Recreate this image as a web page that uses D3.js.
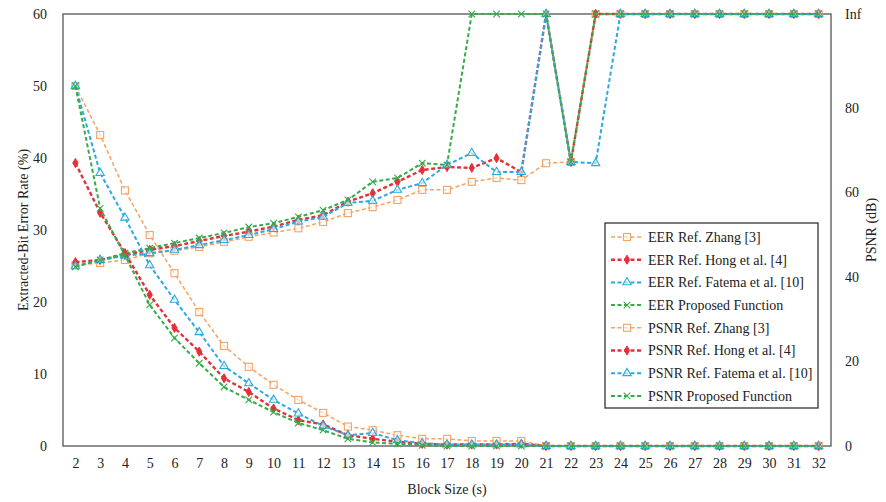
<!DOCTYPE html>
<html>
<head>
<meta charset="utf-8">
<script src="https://cdn.jsdelivr.net/npm/d3@7"></script>
<style>
  body { margin: 0; background: #fff; }
  svg, svg text { font-family: 'Liberation Serif', Tinos, 'Noto Serif', 'DejaVu Serif', 'Times New Roman', Times, serif !important; }
</style>
</head>
<body>
<svg width="886" height="502"></svg>
<script>
const blockSizes = d3.range(2, 33);
const INF = Infinity;

// Extracted-bit error rate (%), left axis
const eerZhang   = [50, 43.2, 35.5, 29.3, 24.0, 18.6, 13.9, 11.0, 8.5, 6.4, 4.6, 2.7, 2.2, 1.5, 1.0, 1.0, 0.7, 0.7, 0.7, 0, 0, 0, 0, 0, 0, 0, 0, 0, 0, 0, 0];
const eerHong    = [39.3, 32.4, 26.8, 21.0, 16.4, 13.1, 9.4, 7.5, 5.2, 3.6, 3.0, 1.5, 1.0, 0.6, 0.3, 0.2, 0.2, 0.2, 0.3, 0, 0, 0, 0, 0, 0, 0, 0, 0, 0, 0, 0];
const eerFatema  = [50, 37.9, 31.7, 25.1, 20.3, 15.8, 11.1, 8.7, 6.4, 4.5, 2.8, 1.5, 1.8, 0.8, 0.4, 0.2, 0.2, 0.2, 0.2, 0, 0, 0, 0, 0, 0, 0, 0, 0, 0, 0, 0];
const eerProp    = [50, 33.0, 26.5, 19.6, 15.0, 11.5, 8.2, 6.4, 4.7, 3.2, 2.2, 1.0, 0.5, 0.3, 0.1, 0, 0, 0, 0, 0, 0, 0, 0, 0, 0, 0, 0, 0, 0, 0, 0];

// PSNR (dB), right axis
const psnrZhang  = [42.8, 43.3, 44.0, 45.6, 46.2, 47.1, 48.3, 49.5, 50.5, 51.5, 53.0, 55.1, 56.5, 58.2, 60.6, 60.6, 62.5, 63.4, 62.9, 66.9, 67.2, INF, INF, INF, INF, INF, INF, INF, INF, INF, INF];
const psnrHong   = [43.5, 44.0, 45.2, 46.4, 47.3, 48.5, 49.7, 50.7, 51.9, 53.5, 54.6, 57.8, 59.8, 62.5, 65.3, 66.0, 65.8, 68.1, 64.8, INF, 67.2, INF, INF, INF, INF, INF, INF, INF, INF, INF, INF];
const psnrFatema = [42.5, 44.0, 45.0, 45.6, 46.4, 47.5, 48.7, 49.9, 51.3, 53.1, 54.2, 57.5, 58.0, 60.6, 62.2, 66.5, 69.3, 64.8, 64.8, INF, 67.2, 66.9, INF, INF, INF, INF, INF, INF, INF, INF, INF];
const psnrProp   = [42.4, 44.0, 45.6, 46.8, 48.0, 49.2, 50.4, 51.8, 52.7, 54.2, 55.8, 58.2, 62.5, 63.4, 66.9, 66.5, INF, INF, INF, INF, 67.2, INF, INF, INF, INF, INF, INF, INF, INF, INF, INF];

const leftTicks = [0, 10, 20, 30, 40, 50, 60];
const rightTicks = [0, 20, 40, 60, 80];
const infLevel = 102.2;

const methods = [
    { name: 'Ref. Zhang [3]',          color: '#f5a263', marker: 'square',   width: 1.5, eer: eerZhang,  psnr: psnrZhang },
    { name: 'Ref. Hong et al. [4]',    color: '#e5303a', marker: 'diamond',  width: 2.4, eer: eerHong,   psnr: psnrHong },
    { name: 'Ref. Fatema et al. [10]', color: '#2aaae0', marker: 'triangle', width: 2,   eer: eerFatema, psnr: psnrFatema },
    { name: 'Proposed Function',       color: '#36ab4a', marker: 'cross',    width: 2,   eer: eerProp,   psnr: psnrProp }
];

const svg = d3.select('svg');
const margin = { top: 14, right: 55, bottom: 56, left: 63 };
const width = +svg.attr('width');
const height = +svg.attr('height');
const innerWidth = width - margin.left - margin.right;
const innerHeight = height - margin.top - margin.bottom;

const xScale = d3.scalePoint().domain(blockSizes).range([0, innerWidth]).padding(0.5);
const yLeft = d3.scaleLinear().domain([0, 60]).range([innerHeight, 0]);
const yRight = d3.scaleLinear().domain([0, infLevel]).range([innerHeight, 0]);
const psnrY = v => yRight(v === Infinity ? infLevel : v);

const g = svg.append('g').attr('transform', `translate(${margin.left},${margin.top})`);

// frame
g.append('rect')
    .attr('width', innerWidth).attr('height', innerHeight)
    .attr('fill', 'none').attr('stroke', '#555').attr('stroke-width', 1.3);

// axes
const leftAxis = g.append('g')
    .call(d3.axisLeft(yLeft).tickValues(leftTicks).tickSize(0).tickPadding(16));
const rightAxis = g.append('g').attr('transform', `translate(${innerWidth},0)`)
    .call(d3.axisRight(yRight).tickValues(rightTicks.concat([infLevel])).tickSize(0).tickPadding(14)
        .tickFormat(d => d === infLevel ? 'Inf' : d));
const bottomAxis = g.append('g').attr('transform', `translate(0,${innerHeight})`)
    .call(d3.axisBottom(xScale).tickSize(0).tickPadding(12));
[leftAxis, rightAxis, bottomAxis].forEach(a => {
    a.attr('font-family', null).attr('font-size', 14);
    a.select('.domain').remove();
    a.selectAll('text').attr('fill', '#222');
});

// axis titles
const title = (x, y, rot, txt) => svg.append('text')
    .attr('transform', `translate(${x},${y}) rotate(${rot})`)
    .attr('text-anchor', 'middle')
    .attr('font-size', 14).attr('fill', '#222')
    .text(txt);
title(28, margin.top + innerHeight / 2, -90, 'Extracted-Bit Error Rate (%)');
title(876, margin.top + innerHeight / 2, -90, 'PSNR (dB)');
title(margin.left + innerWidth / 2, 494, 0, 'Block Size (s)');

const drawMarker = (sel, type, color) => {
    if (type === 'square') {
        sel.append('rect').attr('x', -3.5).attr('y', -3.5).attr('width', 7).attr('height', 7)
            .attr('fill', '#fff').attr('fill-opacity', 0.6).attr('stroke', color).attr('stroke-width', 1.1);
    } else if (type === 'diamond') {
        sel.append('path').attr('d', d3.symbol(d3.symbolDiamond, 24)())
            .attr('fill', color).attr('stroke', color);
    } else if (type === 'triangle') {
        sel.append('path').attr('d', d3.symbol(d3.symbolTriangle, 30)())
            .attr('fill', '#fff').attr('fill-opacity', 0.6).attr('stroke', color).attr('stroke-width', 1.1);
    } else {
        sel.append('path').attr('d', d3.symbol(d3.symbolX, 30)())
            .attr('fill', 'none').attr('stroke', color).attr('stroke-width', 1.1);
    }
};

const plotSeries = (values, yFn, m) => {
    const pts = values.map((v, i) => [xScale(blockSizes[i]), yFn(v)]);
    g.append('path')
        .datum(pts)
        .attr('d', d3.line())
        .attr('fill', 'none')
        .attr('stroke', m.color)
        .attr('stroke-width', m.width)
        .attr('stroke-dasharray', '4,2.5');
    g.append('g').selectAll('g').data(pts).enter().append('g')
        .attr('transform', d => `translate(${d[0]},${d[1]})`)
        .each(function () { drawMarker(d3.select(this), m.marker, m.color); });
};

methods.forEach(m => plotSeries(m.psnr, psnrY, m));
methods.forEach(m => plotSeries(m.eer, v => yLeft(v), m));

// legend
const legend = svg.append('g').attr('transform', 'translate(605,223)');
legend.append('rect').attr('width', 213).attr('height', 185)
    .attr('fill', '#fff').attr('stroke', '#333').attr('stroke-width', 1.3);
const entries = methods.map(m => ({ ...m, label: 'EER ' + m.name }))
    .concat(methods.map(m => ({ ...m, label: 'PSNR ' + m.name })));
entries.forEach((e, i) => {
    const row = legend.append('g').attr('transform', `translate(0,${14 + i * 22.7})`);
    row.append('line').attr('x1', 6).attr('x2', 38).attr('y1', 0).attr('y2', 0)
        .attr('stroke', e.color).attr('stroke-width', e.width).attr('stroke-dasharray', '4,2.5');
    drawMarker(row.append('g').attr('transform', 'translate(22,0)'), e.marker, e.color);
    row.append('text').attr('x', 43).attr('y', 0).attr('dy', '0.35em')
        .attr('font-size', 14).attr('fill', '#222').text(e.label);
});
</script>
</body>
</html>
